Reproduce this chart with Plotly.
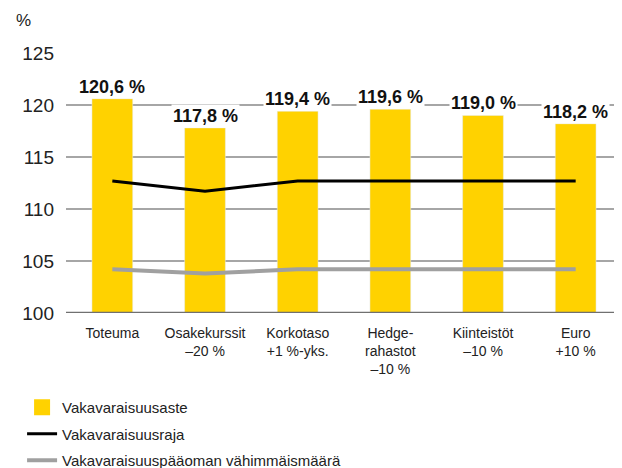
import plotly.graph_objects as go

categories = ["Toteuma", "Osakekurssit<br>–20 %", "Korkotaso<br>+1 %-yks.",
              "Hedge-<br>rahastot<br>–10 %", "Kiinteistöt<br>–10 %", "Euro<br>+10 %"]
solvency_ratio = [120.6, 117.8, 119.4, 119.6, 119.0, 118.2]
solvency_limit = [112.7, 111.7, 112.7, 112.7, 112.7, 112.7]
minimum_capital = [104.2, 103.8, 104.2, 104.2, 104.2, 104.2]
ratio_labels = ["120,6 %", "117,8 %", "119,4 %", "119,6 %", "119,0 %", "118,2 %"]
y_ticks = [100, 105, 110, 115, 120, 125]

FONT = "Liberation Sans, Arial, sans-serif"
YELLOW = "#FFD200"

fig = go.Figure()
fig.add_trace(go.Bar(x=categories, y=[v - 100 for v in solvency_ratio], base=100,
                     marker_color=YELLOW, width=0.44, name="Vakavaraisuusaste",
                     showlegend=False, hoverinfo="skip"))
# legend proxy with a larger square swatch
fig.add_trace(go.Scatter(x=[None], y=[None], mode="markers", name="Vakavaraisuusaste",
                         legendgroup="a",
                         marker=dict(symbol="square", size=20, color=YELLOW)))
fig.add_trace(go.Scatter(x=categories, y=solvency_limit, mode="lines",
                         line=dict(color="#000000", width=3), name="Vakavaraisuusraja",
                         legendgroup="b", hoverinfo="skip"))
fig.add_trace(go.Scatter(x=categories, y=minimum_capital, mode="lines",
                         line=dict(color="#a0a0a0", width=4), legendgroup="c",
                         name="Vakavaraisuuspääoman vähimmäismäärä", hoverinfo="skip"))

for c, v, t in zip(categories, solvency_ratio, ratio_labels):
    fig.add_annotation(x=c, y=v, text="<b>" + t + "</b>", showarrow=False,
                       yanchor="bottom", yshift=0, bgcolor="white", borderpad=1,
                       font=dict(family=FONT, size=18, color="#111111"))

fig.add_annotation(xref="paper", yref="paper", x=-0.093, y=1.08, text="%",
                   showarrow=False, xanchor="left", yanchor="bottom",
                   font=dict(family=FONT, size=17, color="#222222"))

fig.update_layout(
    width=614, height=460,
    margin=dict(l=58, r=0, t=45, b=155, autoexpand=False),
    plot_bgcolor="white", paper_bgcolor="white",
    showlegend=True,
    legend=dict(x=-0.079, y=-0.30, xanchor="left", yanchor="top",
                font=dict(family=FONT, size=15, color="#222222"),
                tracegroupgap=4, itemwidth=30, bgcolor="rgba(0,0,0,0)"),
    xaxis=dict(showgrid=False, showline=False, ticks="", ticklabelstandoff=10,
               tickfont=dict(family=FONT, size=14, color="#222222"),
               tickangle=0, range=[-0.5, 5.5], fixedrange=True),
    yaxis=dict(range=[100, 125], tickvals=y_ticks, ticktext=[str(v) for v in y_ticks],
               showgrid=True, gridcolor="#a6a6a6", gridwidth=1.5,
               zeroline=False, showline=False, ticks="", ticklabelstandoff=11,
               tickfont=dict(family=FONT, size=19, color="#222222"), fixedrange=True),
)
fig.add_hline(y=100, line=dict(color="#707070", width=2.5), layer="above")

fig.write_html("out.html")
